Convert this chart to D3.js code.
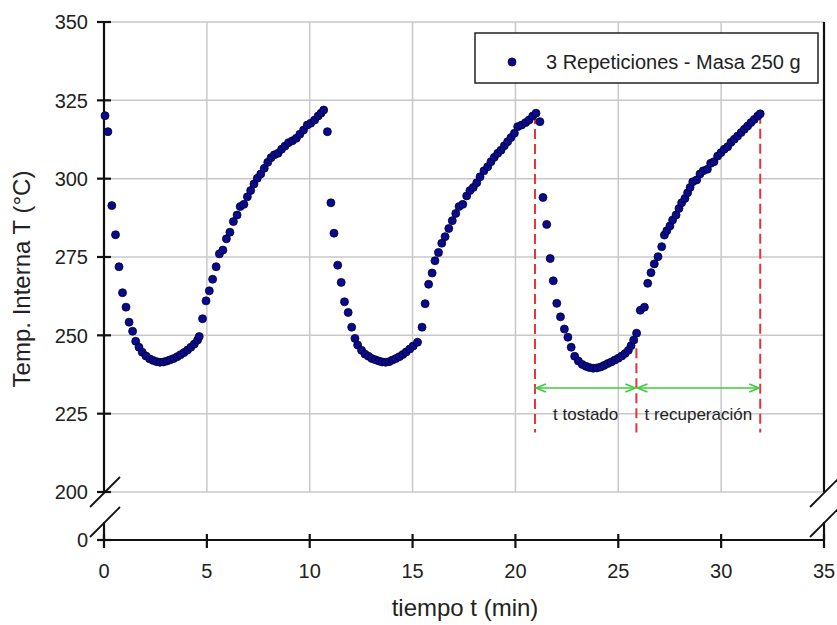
<!DOCTYPE html>
<html>
<head>
<meta charset="utf-8">
<script src="https://cdn.jsdelivr.net/npm/d3@7"></script>
<style>
  body { margin: 0; background: #fff; }
  text { font-family: "Liberation Sans", Arial, sans-serif; fill: #222; }
</style>
</head>
<body>
<script>
const width = 837;
const height = 625;

// ciclo 1
const t1 = [0.05, 0.19, 0.38, 0.56, 0.73, 0.90, 1.07, 1.22, 1.39, 1.54, 1.70, 1.86, 2.04, 2.22, 2.39, 2.56, 2.72, 2.89, 3.06, 3.22, 3.39, 3.56, 3.72, 3.89, 4.06, 4.22, 4.39, 4.55, 4.63,
  4.79, 4.96, 5.12, 5.28, 5.45, 5.61, 5.78, 5.95, 6.12, 6.29, 6.47, 6.62, 6.80, 6.97, 7.13, 7.29, 7.45, 7.62, 7.79, 7.96, 8.12, 8.28, 8.46, 8.63, 8.80, 8.97, 9.16, 9.35, 9.52, 9.70, 9.88, 10.05, 10.24, 10.41, 10.55, 10.68];
const T1 = [320.1, 315.0, 291.4, 282.1, 271.9, 263.6, 259.0, 254.2, 251.3, 248.1, 246.2, 244.6, 243.4, 242.5, 242.0, 241.6, 241.4, 241.5, 241.8, 242.2, 242.6, 243.2, 243.8, 244.5, 245.3, 246.2, 247.2, 248.5, 249.6,
  255.3, 261.0, 264.2, 267.9, 271.9, 276.0, 277.2, 280.8, 282.9, 286.3, 288.4, 291.1, 291.8, 294.2, 296.2, 298.3, 300.1, 301.5, 303.3, 305.2, 306.7, 307.6, 308.1, 309.4, 310.4, 311.5, 312.1, 312.9, 314.2, 315.5, 317.1, 317.7, 318.7, 320.0, 320.9, 321.9];

// ciclo 2
const t2 = [10.86, 11.03, 11.18, 11.36, 11.53, 11.69, 11.87, 12.04, 12.20, 12.33, 12.52, 12.69, 12.86, 13.02, 13.19, 13.36, 13.52, 13.69, 13.86, 14.02, 14.19, 14.36, 14.53, 14.69, 14.86, 15.03, 15.24,
  15.46, 15.61, 15.78, 15.95, 16.09, 16.26, 16.42, 16.58, 16.76, 16.93, 17.10, 17.26, 17.44, 17.63, 17.79, 17.95, 18.12, 18.28, 18.47, 18.65, 18.81, 18.97, 19.14, 19.30, 19.46, 19.62, 19.78, 19.95, 20.11, 20.30, 20.50, 20.66, 20.84, 21.00];
const T2 = [315.0, 292.3, 282.6, 272.4, 266.9, 260.7, 257.3, 252.6, 249.0, 246.9, 245.2, 244.0, 243.3, 242.6, 242.2, 241.8, 241.5, 241.4, 241.6, 242.1, 242.6, 243.2, 243.9, 244.7, 245.6, 246.6, 247.8,
  252.6, 260.1, 266.3, 269.9, 273.8, 276.4, 279.4, 281.5, 284.1, 286.6, 288.9, 291.1, 291.8, 294.5, 296.2, 297.2, 298.7, 300.6, 302.5, 303.8, 305.4, 306.8, 308.1, 309.1, 310.5, 311.8, 313.1, 314.5, 316.6, 317.1, 317.9, 318.7, 320.0, 320.9];

// ciclo 3
const t3 = [21.19, 21.34, 21.52, 21.69, 21.84, 22.01, 22.19, 22.38, 22.55, 22.71, 22.88, 23.06, 23.25, 23.43, 23.60, 23.78, 23.96, 24.14, 24.31, 24.49, 24.66, 24.83, 25.00, 25.17, 25.33, 25.49, 25.62, 25.75, 25.89,
  26.07, 26.27, 26.43, 26.59, 26.75, 26.93, 27.11, 27.24, 27.36, 27.51, 27.64, 27.81, 27.95, 28.08, 28.24, 28.37, 28.49, 28.62, 28.81, 28.97, 29.13, 29.33, 29.49, 29.65, 29.83, 29.99, 30.15, 30.32, 30.48, 30.64, 30.80, 30.97, 31.13, 31.29, 31.45, 31.61, 31.78, 31.90];
const T3 = [318.2, 294.0, 285.4, 274.5, 267.4, 260.2, 255.9, 252.0, 249.4, 246.2, 243.3, 241.8, 240.7, 240.1, 239.7, 239.5, 239.6, 239.9, 240.4, 241.0, 241.5, 242.1, 242.7, 243.4, 244.2, 245.2, 246.7, 248.5, 250.7,
  258.0, 259.0, 266.6, 270.0, 272.8, 275.1, 278.3, 282.0, 283.4, 284.9, 286.8, 288.4, 290.5, 292.3, 293.7, 295.5, 297.2, 299.0, 299.6, 301.5, 302.5, 303.0, 304.9, 305.4, 307.2, 308.3, 309.4, 310.2, 311.6, 312.6, 313.6, 314.7, 315.8, 316.8, 317.9, 318.9, 320.0, 320.7];

const xTicks = [0, 5, 10, 15, 20, 25, 30, 35];
const yTicks = [200, 225, 250, 275, 300, 325, 350];
const yBreakTick = 0;

// lineas de tiempo (t tostado / t recuperacion)
const tMarks = [20.95, 25.88, 31.90];
const tMarkTop = [320.6, 250.7, 320.7];
const tLabels = ["t tostado", "t recuperación"];

const datos = [].concat(
  t1.map((t, i) => ({t, T: T1[i]})),
  t2.map((t, i) => ({t, T: T2[i]})),
  t3.map((t, i) => ({t, T: T3[i]}))
);

const plotLeft = 104, plotRight = 824, plotTop = 22, gridBottom = 492, breakEnd = 522, axisY = 540;

const x = d3.scaleLinear().domain([0, 35]).range([plotLeft, plotRight]);
const y = d3.scaleLinear().domain([200, 350]).range([gridBottom, plotTop]);

const svg = d3.select("body").append("svg")
  .attr("width", width)
  .attr("height", height);

// grid
const grid = svg.append("g").attr("stroke", "#c8c8c8").attr("stroke-width", 1.5);
grid.selectAll(".gx")
  .data(xTicks.filter(d => d > 0 && d < 35))
  .enter().append("line")
  .attr("x1", d => x(d)).attr("x2", d => x(d))
  .attr("y1", plotTop).attr("y2", gridBottom);
grid.selectAll(".gy")
  .data(yTicks)
  .enter().append("line")
  .attr("x1", plotLeft).attr("x2", plotRight)
  .attr("y1", d => y(d)).attr("y2", d => y(d));

// axes
const axes = svg.append("g").attr("stroke", "#111").attr("stroke-width", 2.2).attr("fill", "none");
axes.append("line").attr("x1", plotLeft).attr("x2", plotLeft).attr("y1", plotTop).attr("y2", gridBottom);
axes.append("line").attr("x1", plotLeft).attr("x2", plotLeft).attr("y1", breakEnd).attr("y2", axisY);
axes.append("line").attr("x1", plotRight).attr("x2", plotRight).attr("y1", plotTop).attr("y2", gridBottom);
axes.append("line").attr("x1", plotRight).attr("x2", plotRight).attr("y1", breakEnd).attr("y2", axisY);
axes.append("line").attr("x1", plotLeft).attr("x2", plotRight).attr("y1", axisY).attr("y2", axisY);

// ticks
axes.selectAll(".ty")
  .data(yTicks)
  .enter().append("line")
  .attr("x1", plotLeft - 7).attr("x2", plotLeft + 7)
  .attr("y1", d => y(d)).attr("y2", d => y(d));
axes.append("line")
  .attr("x1", plotLeft - 7).attr("x2", plotLeft + 7)
  .attr("y1", axisY).attr("y2", axisY);
axes.selectAll(".tx")
  .data(xTicks)
  .enter().append("line")
  .attr("x1", d => x(d)).attr("x2", d => x(d))
  .attr("y1", axisY - 6).attr("y2", axisY + 8);

// break marks
const breaks = svg.append("g").attr("stroke", "#111").attr("stroke-width", 1.8);
[plotLeft, plotRight].forEach(bx => {
  [gridBottom, breakEnd].forEach(by => {
    breaks.append("line")
      .attr("x1", bx - 14).attr("y1", by + 15)
      .attr("x2", bx + 16).attr("y2", by - 15);
  });
});

// tick labels
svg.selectAll(".ly")
  .data(yTicks)
  .enter().append("text")
  .attr("x", plotLeft - 16).attr("y", d => y(d))
  .attr("dy", "0.36em")
  .attr("text-anchor", "end")
  .style("font-size", "20px")
  .text(d => d);
svg.append("text")
  .attr("x", plotLeft - 16).attr("y", axisY)
  .attr("dy", "0.36em")
  .attr("text-anchor", "end")
  .style("font-size", "20px")
  .text(yBreakTick);
svg.selectAll(".lx")
  .data(xTicks)
  .enter().append("text")
  .attr("x", d => x(d)).attr("y", 578)
  .attr("text-anchor", "middle")
  .style("font-size", "20px")
  .text(d => d);

// axis titles
svg.append("text")
  .attr("x", 465).attr("y", 616)
  .attr("text-anchor", "middle")
  .style("font-size", "24px")
  .text("tiempo t (min)");
svg.append("text")
  .attr("transform", `translate(30, 279) rotate(-90)`)
  .attr("text-anchor", "middle")
  .style("font-size", "24px")
  .text("Temp. Interna T (°C)");

// red dashed markers
svg.selectAll(".rm")
  .data(tMarks)
  .enter().append("line")
  .attr("x1", d => x(d)).attr("x2", d => x(d))
  .attr("y1", (d, i) => y(tMarkTop[i])).attr("y2", y(219))
  .attr("stroke", "#e8323a").attr("stroke-width", 2)
  .attr("stroke-dasharray", "10,5");

// green arrows
const arrowY = y(233.2);
const arrows = svg.append("g").attr("stroke", "#3ccc3c").attr("stroke-width", 1.6).attr("fill", "none");
[[tMarks[0], tMarks[1]], [tMarks[1], tMarks[2]]].forEach(([a, b]) => {
  const xa = x(a) + 1, xb = x(b) - 1;
  arrows.append("line").attr("x1", xa).attr("x2", xb).attr("y1", arrowY).attr("y2", arrowY);
  arrows.append("path").attr("d", `M${xa + 10},${arrowY - 4} L${xa},${arrowY} L${xa + 10},${arrowY + 4}`);
  arrows.append("path").attr("d", `M${xb - 10},${arrowY - 4} L${xb},${arrowY} L${xb - 10},${arrowY + 4}`);
});
svg.selectAll(".tl")
  .data(tLabels)
  .enter().append("text")
  .attr("x", (d, i) => (x(tMarks[i]) + x(tMarks[i + 1])) / 2)
  .attr("y", y(223))
  .attr("text-anchor", "middle")
  .style("font-size", "17px")
  .text(d => d);

// points
svg.append("g").selectAll("circle")
  .data(datos)
  .enter().append("circle")
  .attr("cx", d => x(d.t))
  .attr("cy", d => y(d.T))
  .attr("r", 4)
  .attr("fill", "#0a0a8c")
  .attr("stroke", "#000033")
  .attr("stroke-width", 0.8);

// legend
const legend = svg.append("g");
legend.append("rect")
  .attr("x", 475).attr("y", 33).attr("width", 343).attr("height", 50)
  .attr("fill", "#fff").attr("stroke", "#222").attr("stroke-width", 1.5);
legend.append("circle")
  .attr("cx", 512).attr("cy", 62).attr("r", 4)
  .attr("fill", "#0a0a8c").attr("stroke", "#000033").attr("stroke-width", 0.8);
legend.append("text")
  .attr("x", 546).attr("y", 69)
  .style("font-size", "20px")
  .text("3 Repeticiones - Masa 250 g");
</script>
</body>
</html>
